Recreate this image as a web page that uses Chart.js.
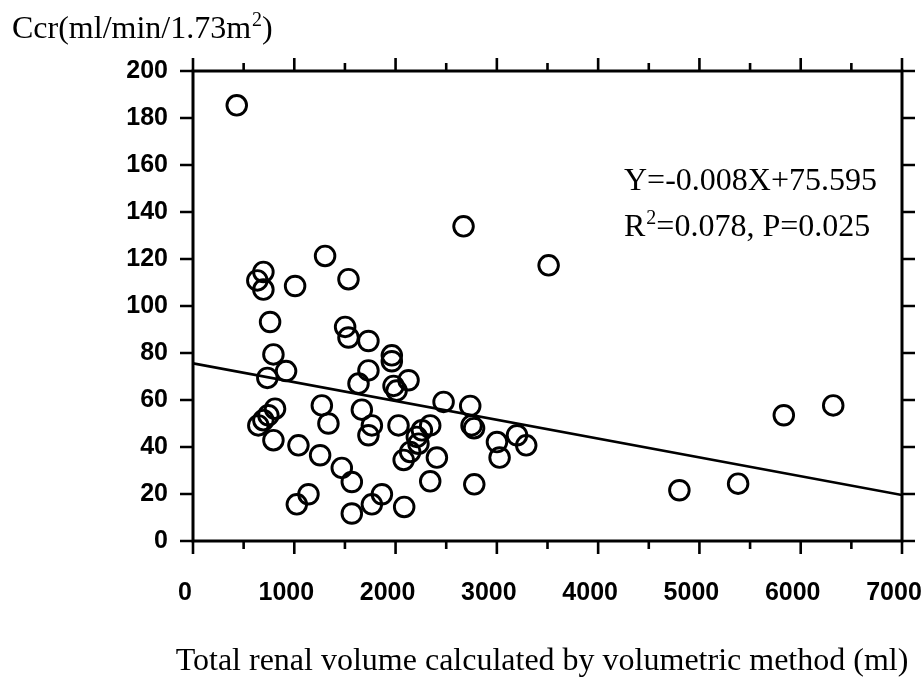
<!DOCTYPE html>
<html>
<head>
<meta charset="utf-8">
<script src="https://cdn.jsdelivr.net/npm/chart.js@4/dist/chart.umd.min.js"></script>
<style>
  html,body{margin:0;padding:0;background:#fff;}
  canvas{display:block;}
</style>
</head>
<body>
<canvas id="c" width="924" height="681"></canvas>
<script>
// ---- data ----
const volume = [432, 2671, 1304, 695, 635, 695, 1008, 1535, 3511, 761, 794, 919, 734, 810, 744, 695, 645, 794, 1041, 1255, 1272, 1337, 1025, 1140, 1502, 1535, 1732, 1963, 1963, 1732, 1634, 1980, 2010, 2128, 1667, 1766, 1732, 2029, 1469, 1568, 1568, 1766, 1865, 2085, 2342, 2260, 2210, 2226, 2144, 2080, 2408, 2342, 2474, 2737, 2750, 2775, 2777, 3001, 3199, 3290, 3027, 4802, 5382, 5833, 6321];
const ccr = [185.4, 133.9, 121.3, 114.5, 110.9, 107, 108.5, 111.4, 117.3, 93.2, 79.4, 72.3, 69.4, 56.3, 53.5, 51.4, 49.2, 42.9, 40.7, 36.5, 57.7, 50, 15.6, 19.9, 91.1, 86.6, 85.1, 79, 76.5, 72.6, 67, 66, 64, 68.4, 55.9, 49.2, 45, 49.2, 31.1, 25.1, 11.7, 15.6, 19.9, 14.5, 49.2, 47.1, 44.3, 41.4, 37.9, 34.5, 35.5, 25.4, 59.2, 57.5, 49.2, 48, 24.1, 42.1, 45, 40.7, 35.5, 21.6, 24.4, 53.5, 57.7];
const fitX = [0, 7000];
const fitY = [75.595, 19.595];
const xMajorTicks = [0, 1000, 2000, 3000, 4000, 5000, 6000, 7000];
const xMinorTicks = [500, 1500, 2500, 3500, 4500, 5500, 6500];
const yTicks = [0, 20, 40, 60, 80, 100, 120, 140, 160, 180, 200];
const yTitle = ['Ccr(ml/min/1.73m', '2', ')'];
const xTitle = 'Total renal volume calculated by volumetric method (ml)';
const eqLine1 = 'Y=-0.008X+75.595';
const eqLine2 = ['R', '2', '=0.078, P=0.025'];

const points = volume.map((v, i) => ({x: v, y: ccr[i]}));
const fitLine = fitX.map((v, i) => ({x: v, y: fitY[i]}));

function drawSup(ctx, parts, x, y, size) {
  ctx.font = size + 'px "Liberation Serif"';
  ctx.fillText(parts[0], x, y);
  let w = ctx.measureText(parts[0]).width;
  ctx.font = Math.round(size * 0.62) + 'px "Liberation Serif"';
  ctx.fillText(parts[1], x + w + 1, y - size * 0.38);
  w += ctx.measureText(parts[1]).width + 1;
  ctx.font = size + 'px "Liberation Serif"';
  ctx.fillText(parts[2], x + w, y);
}

const framePlugin = {
  id: 'frame',
  afterDraw(chart) {
    const {ctx, chartArea: a, scales: {x, y}} = chart;
    ctx.save();
    ctx.strokeStyle = '#000';
    ctx.lineWidth = 3;
    ctx.strokeRect(a.left, a.top, a.right - a.left, a.bottom - a.top);
    ctx.lineWidth = 2.6;
    ctx.beginPath();
    xMajorTicks.forEach(v => {
      const px = x.getPixelForValue(v);
      ctx.moveTo(px, a.bottom); ctx.lineTo(px, a.bottom + 13);
      ctx.moveTo(px, a.top); ctx.lineTo(px, a.top - 13);
    });
    xMinorTicks.forEach(v => {
      const px = x.getPixelForValue(v);
      ctx.moveTo(px, a.bottom); ctx.lineTo(px, a.bottom + 8);
      ctx.moveTo(px, a.top); ctx.lineTo(px, a.top - 8);
    });
    yTicks.forEach(v => {
      const py = y.getPixelForValue(v);
      ctx.moveTo(a.left, py); ctx.lineTo(a.left - 13, py);
      ctx.moveTo(a.right, py); ctx.lineTo(a.right + 13, py);
    });
    ctx.stroke();

    ctx.fillStyle = '#000';
    ctx.textBaseline = 'alphabetic';
    ctx.textAlign = 'left';
    drawSup(ctx, yTitle, 12, 38, 32);
    ctx.font = '32px "Liberation Serif"';
    ctx.fillText(eqLine1, 624, 190);
    drawSup(ctx, eqLine2, 624, 236, 32);
    ctx.textAlign = 'center';
    ctx.font = '32px "Liberation Serif"';
    ctx.fillText(xTitle, 542, 670);
    ctx.restore();
  }
};

new Chart(document.getElementById('c'), {
  type: 'scatter',
  data: {
    datasets: [
      {
        type: 'scatter',
        data: points,
        pointStyle: 'circle',
        pointRadius: 9.8,
        pointBorderWidth: 2.9,
        borderColor: '#000',
        backgroundColor: 'rgba(0,0,0,0)',
        pointHoverRadius: 9.8
      },
      {
        type: 'line',
        data: fitLine,
        borderColor: '#000',
        borderWidth: 2.6,
        pointRadius: 0,
        fill: false,
        tension: 0
      }
    ]
  },
  options: {
    responsive: false,
    devicePixelRatio: 1,
    animation: false,
    events: [],
    layout: {padding: {top: 71, right: 22, left: 0, bottom: 0}},
    plugins: {legend: {display: false}, tooltip: {enabled: false}},
    scales: {
      x: {
        type: 'linear',
        min: 0, max: 7000,
        afterFit(s) { s.height = 140; s.paddingLeft = 0; s.paddingRight = 0; },
        afterBuildTicks(s) { s.ticks = xMajorTicks.map(v => ({value: v})); },
        grid: {display: false, drawTicks: false},
        border: {display: false},
        ticks: {
          padding: 37,
          labelOffset: -8,
          color: '#000',
          font: {family: '"Liberation Sans"', size: 25, weight: 'bold'},
          maxRotation: 0,
          autoSkip: false,
          callback: v => String(v)
        }
      },
      y: {
        type: 'linear',
        min: 0, max: 200,
        afterFit(s) { s.width = 193; s.paddingTop = 0; s.paddingBottom = 0; },
        afterBuildTicks(s) { s.ticks = yTicks.map(v => ({value: v})); },
        grid: {display: false, drawTicks: false},
        border: {display: false},
        ticks: {
          padding: 25,
          color: '#000',
          font: {family: '"Liberation Sans"', size: 25, weight: 'bold'},
          autoSkip: false,
          callback: v => String(v)
        }
      }
    }
  },
  plugins: [framePlugin]
});
</script>
</body>
</html>
